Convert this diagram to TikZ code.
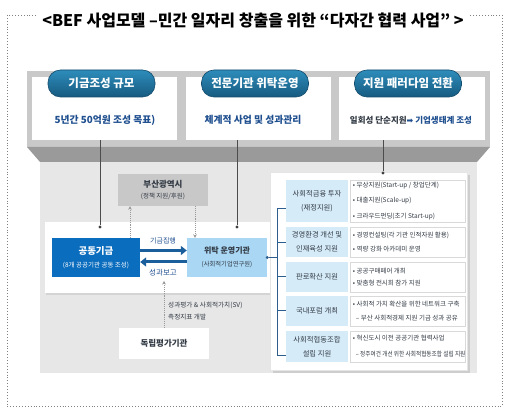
\documentclass[tikz,border=0pt]{standalone}
\usepackage{fontspec}
\setmainfont{Noto Sans CJK KR}
\newfontfamily\djv{DejaVu Sans}
\usetikzlibrary{shadows,arrows.meta,calc}
\definecolor{pillA}{HTML}{2E8DBB}
\definecolor{pillB}{HTML}{165A80}
\definecolor{frameG}{HTML}{C9C9C9}
\definecolor{bandG}{HTML}{9A9A9A}
\definecolor{areaG}{HTML}{E7E7E7}
\definecolor{txtB}{HTML}{1F4F8F}
\definecolor{fundB}{HTML}{0B6DBE}
\definecolor{opB}{HTML}{A9D7F4}
\definecolor{arrB}{HTML}{1B5E9C}
\definecolor{catB}{HTML}{D5EBF8}
\definecolor{brk}{HTML}{2E5E8E}
\definecolor{busanG}{HTML}{C8C8C8}
\definecolor{dk}{HTML}{333B45}
\newcommand{\fs}[2]{\fontsize{#1}{#2}\selectfont}
\tikzset{
  pill/.style={rounded corners=12.5pt, minimum width=107pt, minimum height=27pt, inner sep=0pt,
    top color=pillA, bottom color=pillB, draw=pillB!85!black, line width=0.6pt,
    text=white, font=\fs{11.5}{13}\bfseries},
  boxtxt/.style={text=txtB, font=\fs{9.8}{11}\bfseries, inner sep=0pt},
  thinl/.style={draw=black!70, line width=0.6pt},
  dotn/.style={circle, fill=black!75, inner sep=0pt, minimum size=3.4pt},
  dotarr/.style={draw=black!40, densely dotted, line width=0.9pt, -{Stealth[length=3.5pt,width=3.5pt]}},
  bigarr/.style={draw=arrB, line width=3pt, -{Triangle[length=6pt,width=9pt]}},
  catbox/.style={fill=catB, minimum width=62pt, inner sep=0pt, align=center, text=dk, font=\fs{7.3}{14}},
  itembox/.style={fill=white, draw=black!15, line width=0.5pt, minimum width=115pt, inner sep=0pt},
  itemtxt/.style={anchor=west, align=left, text=dk, inner sep=0pt},
  brl/.style={draw=brk, line width=0.9pt},
}
\begin{document}
\begin{tikzpicture}[x=1pt, y=-1pt]
\useasboundingbox (0,0) rectangle (512,414);
% outer dotted frame
\draw[black!50, dotted, line width=0.9pt] (7,15) rectangle (502,406);
\node[fill=white, inner xsep=5pt, inner ysep=2pt, font=\fs{16}{18}\bfseries, text=black] (title) at (253,20)
  {<BEF 사업모델 –민간 일자리 창출을 위한 “다자간 협력 사업” >};
% top frame
\fill[frameG] (27,71) rectangle (490,147);
\fill[white] (32,77) rectangle (177,140);
\fill[white] (186,77) rectangle (331,140);
\fill[white] (339,77) rectangle (485,140);
\fill[bandG] (27,147) -- (490,147) -- (477,162) -- (40,162) -- cycle;
\fill[areaG] (40,162) rectangle (477,373);
% pills
\node[pill] (p1) at (101.5,83.5) {기금조성 규모};
\node[pill] (p2) at (255,83.5) {전문기관 위탁운영};
\node[pill] (p3) at (408,83.5) {지원 패러다임 전환};
% box texts
\node[boxtxt] (t1) at (105,120) {5년간 50억원 조성 목표)};
\node[boxtxt] (t2) at (253,120) {체계적 사업 및 성과관리};
\node[boxtxt, font=\fs{8.5}{11}\bfseries] (t3) at (411,120) {\textcolor{dk}{일회성 단순지원}{\djv\fs{8}{11}➡} 기업생태계 조성};
% inner white panel
\fill[white, drop shadow={opacity=0.18, shadow xshift=1pt, shadow yshift=-2pt}] (45,222) rectangle (272,293);
% right panel
\fill[white, draw=black!10, drop shadow={opacity=0.25, shadow xshift=3pt, shadow yshift=-3pt}] (270,172) rectangle (467,370);
% vertical connector lines
\coordinate (s1) at (100,140);
\coordinate (s2) at (237,140);
\coordinate (s3) at (383,140);
\node[dotn] (d1) at (100,227) {};
\node[dotn] (d2) at (237,227) {};
\node[dotn] (d3) at (383,173) {};
\draw[thinl] (s1) -- (d1);
\draw[thinl] (s2) -- (d2);
\draw[thinl] (s3) -- (d3);
% Busan
\node[fill=busanG, minimum width=90pt, minimum height=32pt, inner sep=0pt, align=center, text=dk, font=\fs{6.5}{11}] (busan) at (163,190)
  {{\fs{8.5}{11}\bfseries 부산광역시}\\(정책 지원/후원)};
% fund and operator
\node[fill=fundB, minimum width=88pt, minimum height=39pt, inner sep=0pt, align=center, text=white, font=\fs{6.5}{13}] (fund) at (96,257.5)
  {{\fs{9.5}{13}\bfseries 공동기금}\\(8개 공공기관 공동 조성)};
\node[fill=opB, minimum width=80pt, minimum height=39pt, inner sep=0pt, align=center, text=dk, font=\fs{6.3}{13}] (op) at (227,257.5)
  {{\fs{8}{13}\bfseries 위탁 운영기관}\\(사회적기업연구원)};
\draw[bigarr] ([yshift=7pt]fund.east) -- ([yshift=7pt]op.west);
\draw[bigarr] ([yshift=-4.5pt]op.west) -- ([yshift=-4.5pt]fund.east);
\node[text=txtB, font=\fs{7}{8}, inner sep=0pt] (lab1) at (163,241) {기금집행};
\node[text=txtB, font=\fs{7.5}{8}, inner sep=0pt] (lab2) at (163,273) {성과보고};
\draw[dotarr] ([xshift=34pt]fund.north) -- ([xshift=-33pt]busan.south);
\draw[dotarr] ([xshift=32pt]busan.south) -- ([xshift=-32pt]op.north);
% evaluation
\node[fill=white, minimum width=90pt, minimum height=31pt, inner sep=0pt, text=dk, font=\fs{8.5}{10}\bfseries] (eval) at (164,343.5) {독립평가기관};
\coordinate (rep) at (164,281);
\draw[dotarr] (eval.north) -- (rep);
\node[anchor=west, align=left, text=dk, font=\fs{6.6}{12}, inner sep=0pt] (evl) at (168,311)
  {성과평가 \& 사회적가치(SV)\\측정지표 개발};
% right panel rows
\node[catbox, minimum height=42pt] (c1) at (317,201) {사회적금융 투자\\(재정지원)};
\node[catbox, minimum height=30pt] (c2) at (317,242) {경영환경 개선 및\\인재육성 지원};
\node[catbox, minimum height=30pt] (c3) at (317,277) {판로확산 지원};
\node[catbox, minimum height=30pt] (c4) at (317,311) {국내포럼 개최};
\node[catbox, minimum height=31pt] (c5) at (317,346.5) {사회적협동조합\\설립 지원};
\node[itembox, minimum height=42pt] (i1) at (407.5,201) {};
\node[itembox, minimum height=30pt] (i2) at (407.5,242) {};
\node[itembox, minimum height=30pt] (i3) at (407.5,277) {};
\node[itembox, minimum height=30pt] (i4) at (407.5,311) {};
\node[itembox, minimum height=31pt] (i5) at (407.5,346.5) {};
\node[itemtxt, font=\fs{6.5}{15.5}] (x1) at ([xshift=3pt]i1.west) {•\ 무상지원(Start-up / 창업단계)\\•\ 대출지원(Scale-up)\\•\ 크라우드펀딩(초기 Start-up)};
\node[itemtxt, font=\fs{6.5}{14}] (x2) at ([xshift=3pt]i2.west) {•\ 경영컨설팅(각 기관 인적자원 활용)\\•\ 역량 강화 아카데미 운영};
\node[itemtxt, font=\fs{6.5}{12.5}] (x3) at ([xshift=3pt]i3.west) {•\ 공공구매페어 개최\\•\ 맞춤형 전시회 참가 지원};
\node[itemtxt, font=\fs{6.5}{14}] (x4) at ([xshift=3pt]i4.west) {•\ 사회적 가치 확산을 위한 네트워크 구축\\\hspace*{3pt}– 부산 사회적경제 지원 기금 성과 공유};
\node[itemtxt, font=\fs{6.5}{16}] (x5) at ([xshift=3pt]i5.west) {•\ 혁신도시 이전 공공기관 협력사업\\\hspace*{3pt}\scalebox{0.87}[1]{– 정주여건 개선 위한 사회적협동조합 설립 지원}};
% bracket
\node[circle, fill=brk, inner sep=0pt, minimum size=3.4pt] (od) at (op.east) {};
\coordinate (bm) at (277,257.5);
\coordinate (b1) at (277,208);
\coordinate (b2) at (277,242);
\coordinate (b3) at (277,276);
\coordinate (b4) at (277,310);
\coordinate (b5) at (277,355);
\draw[brl] (od) -- (bm);
\draw[brl] (b1) -- (b5);
\draw[brl] (b1) -- (b1 -| c1.west);
\draw[brl] (b2) -- (b2 -| c2.west);
\draw[brl] (b3) -- (b3 -| c3.west);
\draw[brl] (b4) -- (b4 -| c4.west);
\draw[brl] (b5) -- (b5 -| c5.west);
\end{tikzpicture}
\end{document}
